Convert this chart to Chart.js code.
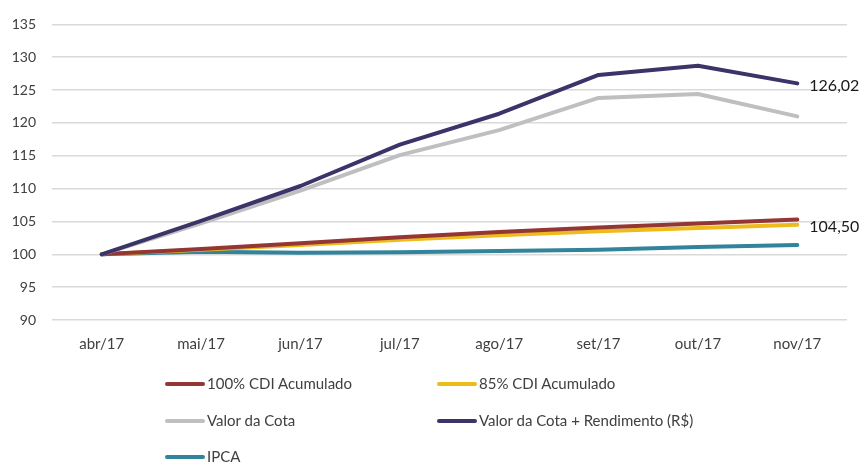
<!DOCTYPE html>
<html>
<head>
<meta charset="utf-8">
<script src="https://cdn.jsdelivr.net/npm/chart.js@4.4.1/dist/chart.umd.min.js"></script>
<style>
  html, body { margin: 0; padding: 0; background: #fff; }
  #wrap { position: relative; width: 862px; height: 463px; }
  canvas { position: absolute; left: 0; top: 0; }
  .leg { position: absolute; font-family: Lato, "Open Sans", sans-serif; font-size: 15px; color: #404040; white-space: nowrap; }
  .leg span.sw { display: inline-block; width: 40px; height: 4px; border-radius: 2px; vertical-align: middle; margin-right: 2px; position: relative; top: -1px; }
</style>
</head>
<body>
<div id="wrap">
  <canvas id="grafico" width="862" height="463"></canvas>
  <div id="legenda"></div>
</div>
<script>
const meses = ["abr/17", "mai/17", "jun/17", "jul/17", "ago/17", "set/17", "out/17", "nov/17"];

const cdi100 = [100, 100.8, 101.7, 102.6, 103.4, 104.1, 104.7, 105.3];
const cdi85 = [100, 100.7, 101.4, 102.2, 102.9, 103.5, 104.0, 104.5];
const valorCota = [100, 104.7, 109.7, 115.1, 118.9, 123.8, 124.4, 121.0];
const cotaRendimento = [100, 105.1, 110.4, 116.7, 121.4, 127.3, 128.7, 126.02];
const ipca = [100, 100.4, 100.25, 100.3, 100.5, 100.7, 101.1, 101.4];

const series = [
  { label: '100% CDI Acumulado', data: cdi100, cor: '#943634' },
  { label: '85% CDI Acumulado', data: cdi85, cor: '#EDBB1C' },
  { label: 'Valor da Cota', data: valorCota, cor: '#BFBFBF' },
  { label: 'Valor da Cota + Rendimento (R$)', data: cotaRendimento, cor: '#3A3469' },
  { label: 'IPCA', data: ipca, cor: '#31849B' }
];

// ordem de desenho: IPCA por baixo, depois CDI, cota
const ordemDesenho = [4, 1, 0, 2, 3];

// rótulo só no último ponto de algumas séries
const rotulos = { 1: '104,50', 3: '126,02' };

const rotuloFinal = {
  id: 'rotuloFinal',
  afterDatasetsDraw(chart) {
    const c = chart.ctx;
    c.save();
    c.font = '16px Lato, "Open Sans", sans-serif';
    c.fillStyle = '#1a1a1a';
    c.textBaseline = 'middle';
    chart.data.datasets.forEach((ds, i) => {
      if (!rotulos[ds.idx]) return;
      const meta = chart.getDatasetMeta(i);
      const p = meta.data[meta.data.length - 1];
      c.fillText(rotulos[ds.idx], p.x + 12, p.y + 2);
    });
    c.restore();
  }
};

const ctx = document.getElementById('grafico').getContext('2d');

new Chart(ctx, {
  type: 'line',
  data: {
    labels: meses,
    datasets: ordemDesenho.map((k, n) => ({
      idx: k,
      label: series[k].label,
      data: series[k].data,
      borderColor: series[k].cor,
      backgroundColor: series[k].cor,
      borderWidth: 4,
      pointRadius: 0,
      tension: 0,
      fill: false,
      borderCapStyle: 'round',
      borderJoinStyle: 'round',
      order: ordemDesenho.length - n
    }))
  },
  options: {
    responsive: false,
    animation: false,
    layout: {
      padding: { left: 12, right: 15, top: 5, bottom: 103 }
    },
    plugins: {
      legend: { display: false },
      tooltip: { enabled: false }
    },
    scales: {
      x: {
        offset: true,
        grid: { display: false },
        border: { display: false },
        ticks: {
          color: '#404040',
          font: { family: 'Lato, "Open Sans", sans-serif', size: 15 },
          padding: 7,
          maxRotation: 0
        }
      },
      y: {
        min: 90,
        max: 135,
        afterFit(scale) { scale.width = 40; },
        grid: { color: '#D9D9D9', lineWidth: 1.5, drawTicks: false },
        border: { display: false },
        ticks: {
          stepSize: 5,
          color: '#404040',
          font: { family: 'Lato, "Open Sans", sans-serif', size: 14 },
          padding: 16
        }
      }
    }
  },
  plugins: [rotuloFinal]
});

// legenda em duas colunas, como no original
const posLegenda = [
  { k: 0, x: 165, y: 384 },
  { k: 1, x: 437, y: 384 },
  { k: 2, x: 165, y: 421 },
  { k: 3, x: 437, y: 421 },
  { k: 4, x: 165, y: 457 }
];
const legenda = document.getElementById('legenda');
posLegenda.forEach(p => {
  const d = document.createElement('div');
  d.className = 'leg';
  d.style.left = p.x + 'px';
  d.style.top = (p.y - 10) + 'px';
  d.innerHTML = '<span class="sw" style="background:' + series[p.k].cor + '"></span>' + series[p.k].label;
  legenda.appendChild(d);
});
</script>
</body>
</html>
